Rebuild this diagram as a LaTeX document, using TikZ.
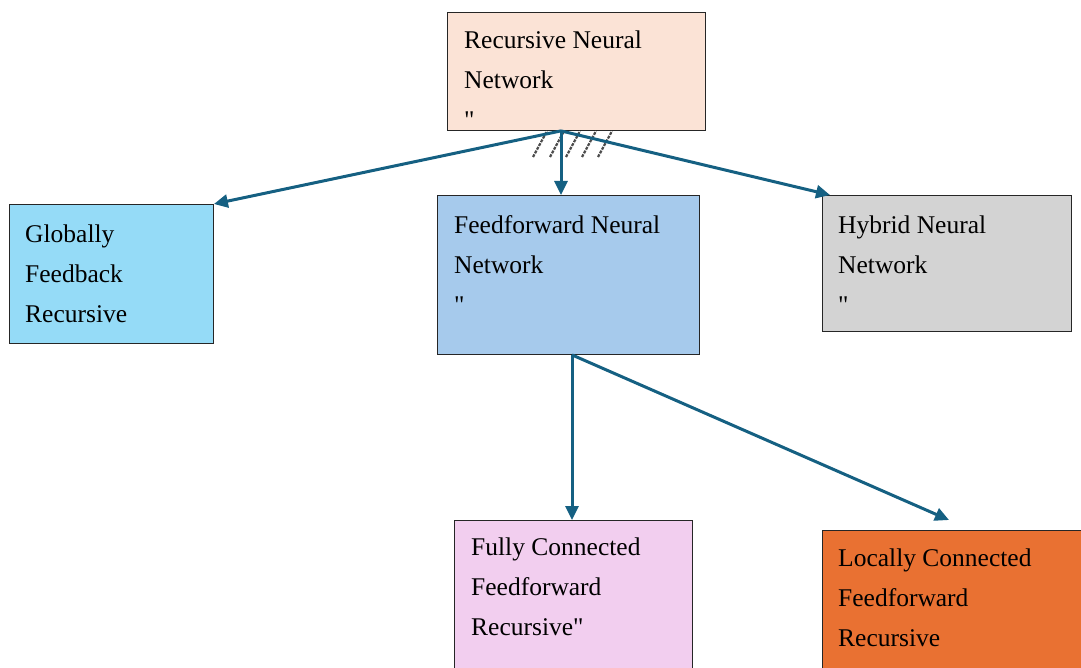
\documentclass[tikz,border=0pt]{standalone}
\usepackage{fontspec}
\setmainfont{Liberation Serif}
\newfontfamily\plainq{Liberation Serif}
\usetikzlibrary{arrows.meta}
\definecolor{cTop}{HTML}{FBE3D6}
\definecolor{cGlob}{HTML}{95DBF7}
\definecolor{cFF}{HTML}{A6CAEC}
\definecolor{cHyb}{HTML}{D3D3D3}
\definecolor{cFully}{HTML}{F2CEEF}
\definecolor{cLoc}{HTML}{E97132}
\definecolor{arrowc}{HTML}{156082}
\newcommand{\sq}{{\plainq"}}
\begin{document}
\begin{tikzpicture}[x=1pt,y=-1pt,
  box/.style={draw=black!85, line width=0.9pt, anchor=north west, inner sep=0pt},
  txt/.style={anchor=north west, inner sep=0pt, align=left, font=\fontsize{25.5}{40}\selectfont},
  conn/.style={draw=arrowc, line width=3pt, -{Triangle[length=14pt,width=13pt]}},
  hatch/.style={draw=black!70, line width=2.2pt, dash pattern=on 3pt off 1.2pt}]
\useasboundingbox (0,0) rectangle (1081,668);

% boxes
\node[box, fill=cTop,   minimum width=258pt, minimum height=118pt] (top)   at (447,12)  {};
\node[box, fill=cGlob,  minimum width=204pt, minimum height=139pt] (glob)  at (9,204)   {};
\node[box, fill=cFF,    minimum width=262pt, minimum height=159pt] (ff)    at (437,195) {};
\node[box, fill=cHyb,   minimum width=249pt, minimum height=136pt] (hyb)   at (822,195) {};
\node[box, fill=cFully, minimum width=238pt, minimum height=155pt] (fully) at (454,520) {};
\node[box, fill=cLoc,   minimum width=265pt, minimum height=145pt] (loc)   at (822,530) {};

% texts
\node[txt] (topT)   at (464,28)  {\rule{0pt}{20pt}Recursive Neural\\Network\\\sq};
\node[txt] (globT)  at (25,222)  {\rule{0pt}{20pt}Globally\\Feedback\\Recursive};
\node[txt] (ffT)    at (454,213) {\rule{0pt}{20pt}Feedforward Neural\\Network\\\sq};
\node[txt] (hybT)   at (838,213) {\rule{0pt}{20pt}Hybrid Neural\\Network\\\sq};
\node[txt] (fullyT) at (471,535) {\rule{0pt}{20pt}Fully Connected\\Feedforward\\Recursive\sq};
\node[txt] (locT)   at (838,546) {\rule{0pt}{20pt}Locally Connected\\Feedforward\\Recursive};

% hatch under the top box
\foreach \hx in {533,550,566,582,598}
  \draw[hatch] (\hx,157) -- ++(14,-26);

% connectors
\path (top.south west) ++(114,0) coordinate (s1);
\path (ff.north west) ++(124,0) coordinate (ffin);
\path (hyb.north west) ++(8,0) coordinate (hybin);
\path (ff.south west) ++(135,0) coordinate (s2);
\path (fully.north west) ++(118,0) coordinate (fullyin);
\path (loc.north west) ++(127,-10) coordinate (locin);

\draw[conn] (s1) -- (glob.north east);
\draw[conn] (s1) -- (ffin);
\draw[conn] (s1) -- (hybin);
\draw[conn] (s2) -- (fullyin);
\draw[conn] (s2) -- (locin);
\end{tikzpicture}
\end{document}
